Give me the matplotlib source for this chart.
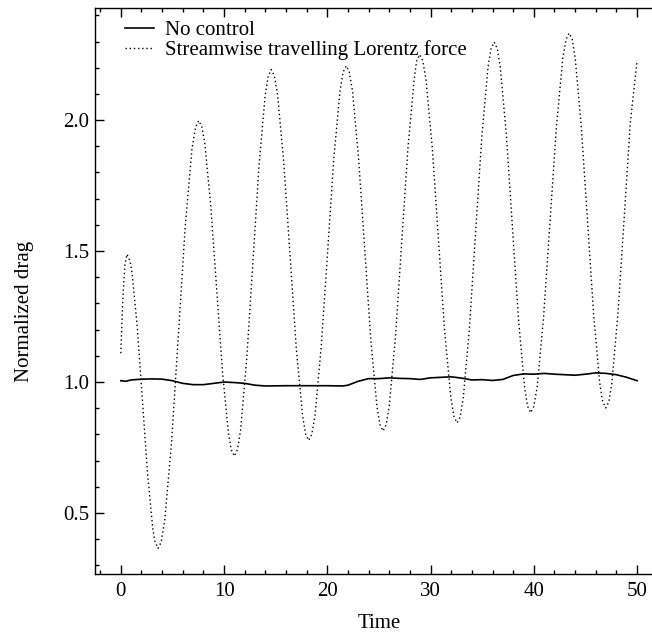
import matplotlib
matplotlib.use("Agg")
import matplotlib.pyplot as plt
from matplotlib.ticker import MultipleLocator

# no control: drag stays near 1
t_base = [0, 0.5, 1, 2, 3, 4, 5, 6, 7, 8, 9, 10, 11, 12, 13, 14, 16, 18, 20,
          21.5, 22, 23, 24, 25, 26, 27, 28, 29, 30, 31, 32, 33, 34, 35, 36,
          37, 38, 39, 40, 41, 42, 43, 44, 45, 46, 47, 48, 49, 50]
drag_base = [1.005, 1.003, 1.008, 1.011, 1.012, 1.011, 1.005, 0.995, 0.990,
             0.990, 0.995, 1.000, 0.998, 0.995, 0.988, 0.985, 0.986, 0.986,
             0.986, 0.985, 0.988, 1.003, 1.013, 1.013, 1.016, 1.014, 1.013,
             1.010, 1.016, 1.018, 1.020, 1.015, 1.008, 1.009, 1.006, 1.010,
             1.025, 1.031, 1.030, 1.033, 1.030, 1.028, 1.026, 1.030, 1.035,
             1.033, 1.028, 1.018, 1.005]

# streamwise travelling Lorentz force
t_lor = [0, 0.2, 0.4, 0.6, 0.9, 1.1, 1.6, 2.1, 2.6, 3.1, 3.3, 3.6, 3.9,
         4.26, 4.92, 5.58, 6.23, 6.89, 7.25, 7.55, 7.85,
         8.13, 8.70, 9.28, 9.85, 10.43, 10.7, 11.0, 11.3,
         11.6, 12.19, 12.79, 13.38, 13.98, 14.27, 14.57, 14.87,
         15.18, 15.78, 16.39, 16.99, 17.6, 17.9, 18.2, 18.5,
         18.81, 19.41, 20.02, 20.62, 21.23, 21.53, 21.83, 22.13,
         22.43, 23.02, 23.62, 24.21, 24.81, 25.1, 25.4, 25.7,
         26.0, 26.6, 27.2, 27.8, 28.4, 28.65, 28.95, 29.25,
         29.55, 30.16, 30.76, 31.36, 31.97, 32.27, 32.57, 32.87,
         33.17, 33.77, 34.36, 34.96, 35.56, 35.86, 36.16, 36.46,
         36.75, 37.34, 37.93, 38.52, 39.11, 39.4, 39.7, 40.0,
         40.32, 40.94, 41.56, 42.18, 42.80, 43.12, 43.42, 43.72,
         44.01, 44.60, 45.20, 45.79, 46.38, 46.67, 46.97, 47.27,
         47.56, 48.15, 48.75, 49.34, 50.0]
drag_lor = [1.11, 1.32, 1.45, 1.488, 1.460, 1.413, 1.207, 0.926, 0.646, 0.440, 0.393, 0.365, 0.388,
            0.474, 0.773, 1.182, 1.590, 1.889, 1.975, 1.998, 1.974,
            1.912, 1.678, 1.357, 1.037, 0.803, 0.741, 0.717, 0.743,
            0.816, 1.086, 1.455, 1.824, 2.094, 2.167, 2.193, 2.169,
            2.098, 1.839, 1.485, 1.131, 0.872, 0.801, 0.777, 0.801,
            0.873, 1.135, 1.492, 1.850, 2.111, 2.183, 2.207, 2.183,
            2.114, 1.858, 1.510, 1.161, 0.906, 0.837, 0.813, 0.837,
            0.909, 1.172, 1.530, 1.889, 2.151, 2.226, 2.250, 2.226,
            2.156, 1.898, 1.547, 1.195, 0.938, 0.868, 0.844, 0.868,
            0.941, 1.208, 1.571, 1.935, 2.201, 2.273, 2.298, 2.273,
            2.203, 1.944, 1.590, 1.237, 0.978, 0.907, 0.883, 0.907,
            0.980, 1.245, 1.608, 1.970, 2.235, 2.308, 2.332, 2.308,
            2.236, 1.974, 1.616, 1.259, 0.997, 0.925, 0.901, 0.925,
            0.998, 1.263, 1.626, 1.988, 2.227]

plt.rcParams['font.family'] = ['Liberation Serif', 'DejaVu Serif']
plt.rcParams['font.size'] = 15

fig = plt.figure(figsize=(6.52, 6.35), dpi=100)
# right edge of the axes falls outside the picture, as in the original
ax = fig.add_axes([0.1457, 0.096, 0.871, 0.891])

ax.plot(t_base, drag_base, color='black', lw=1.2, label='No control')
ax.plot(t_lor, drag_lor, color='black', lw=1.0, linestyle=(0, (1, 2)),
        label='Streamwise travelling Lorentz force')

ax.set_xlim(-2.5, 52.5)
ax.set_ylim(0.267, 2.427)
ax.xaxis.set_major_locator(MultipleLocator(10))
ax.xaxis.set_minor_locator(MultipleLocator(2))
ax.yaxis.set_major_locator(MultipleLocator(0.5))
ax.yaxis.set_minor_locator(MultipleLocator(0.1))
ax.tick_params(which='both', direction='in', top=True, right=True, width=1)
ax.tick_params(which='major', length=6.5)
ax.tick_params(which='minor', length=3.2)
ax.tick_params(axis='x', which='major', pad=6)
ax.tick_params(axis='y', which='major', pad=4)
for s in ax.spines.values():
    s.set_linewidth(1)
ax.spines['right'].set_visible(False)

ax.set_xlabel('Time', labelpad=9)
ax.set_ylabel('Normalized drag')
ax.yaxis.set_label_coords(-0.108, 0.465)

ax.legend(loc='upper left', frameon=False, handlelength=1.4, handletextpad=0.55,
          labelspacing=0.0, borderaxespad=0.2, bbox_to_anchor=(0.03, 1.0))

fig.savefig('out.png', dpi=100)
